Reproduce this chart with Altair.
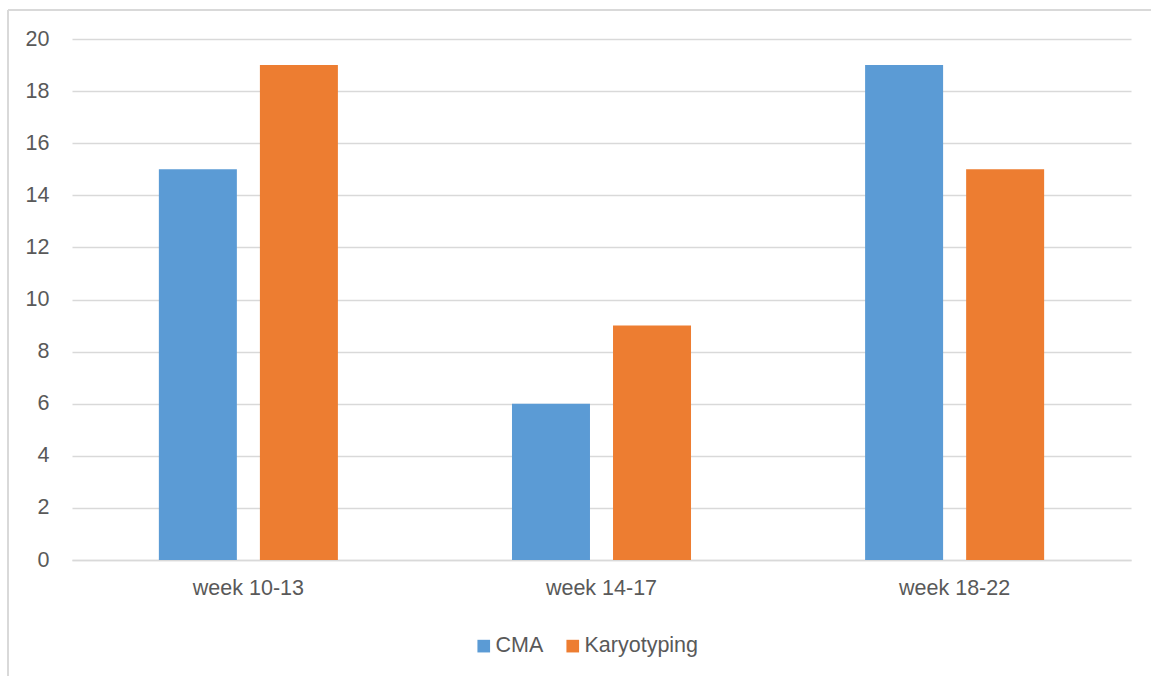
import altair as alt
import pandas as pd

# Counts per gestational-age group
weeks = ["week 10-13", "week 14-17", "week 18-22"]
cma = [15, 6, 19]
karyotyping = [19, 9, 15]
methods = ["CMA", "Karyotyping"]
colors = ["#5B9BD5", "#ED7D31"]

rows = []
for i, w in enumerate(weeks):
    rows.append({"week": w, "method": "CMA", "count": cma[i]})
    rows.append({"week": w, "method": "Karyotyping", "count": karyotyping[i]})
df = pd.DataFrame(rows)

FONT = "Liberation Sans"
TEXT = "#595959"
GRID = "#D9D9D9"
FS = 21.5

bars = alt.Chart(df).mark_bar().encode(
    x=alt.X(
        "week:N",
        sort=weeks,
        title=None,
        scale=alt.Scale(paddingInner=0.493, paddingOuter=0.246),
        axis=alt.Axis(
            labelAngle=0, labelFont=FONT, labelFontSize=FS, labelColor=TEXT,
            labelPadding=17, ticks=False, domain=True, domainColor=GRID,
            domainWidth=1.3, grid=False,
        ),
    ),
    xOffset=alt.XOffset(
        "method:N", sort=methods,
        scale=alt.Scale(paddingInner=0.228, paddingOuter=0),
    ),
    y=alt.Y(
        "count:Q",
        title=None,
        scale=alt.Scale(domain=[0, 20], nice=False),
        axis=alt.Axis(
            values=list(range(0, 21, 2)), labelFont=FONT, labelFontSize=FS,
            labelColor=TEXT, labelPadding=23, ticks=False, domain=False,
            grid=True, gridColor=GRID, gridWidth=1.3,
        ),
    ),
    color=alt.Color(
        "method:N",
        sort=methods,
        scale=alt.Scale(domain=methods, range=colors),
        legend=alt.Legend(
            title=None, orient="none", direction="horizontal",
            legendX=401, legendY=596, symbolType="square", symbolSize=160,
            symbolStrokeWidth=0, labelFont=FONT, labelFontSize=FS,
            labelColor=TEXT, labelOffset=1, columnPadding=18,
        ),
    ),
)

# Outer chart frame (left and top edges)
frame_left = alt.Chart(df).mark_rule(color=GRID, strokeWidth=1.5).encode(
    x=alt.value(-64), y=alt.value(-29), y2=alt.value(700)
)
frame_top = alt.Chart(df).mark_rule(color=GRID, strokeWidth=1.5).encode(
    x=alt.value(-64), x2=alt.value(1200), y=alt.value(-29)
)

chart = alt.layer(frame_left, frame_top, bars).properties(
    width=1059,
    height=521,
    autosize=alt.AutoSizeParams(type="none"),
    padding={"left": 72, "top": 39, "right": 20, "bottom": 116},
    background="white",
).configure_view(stroke=None)

chart.save("out.html", embed_options={"renderer": "svg", "actions": False})
